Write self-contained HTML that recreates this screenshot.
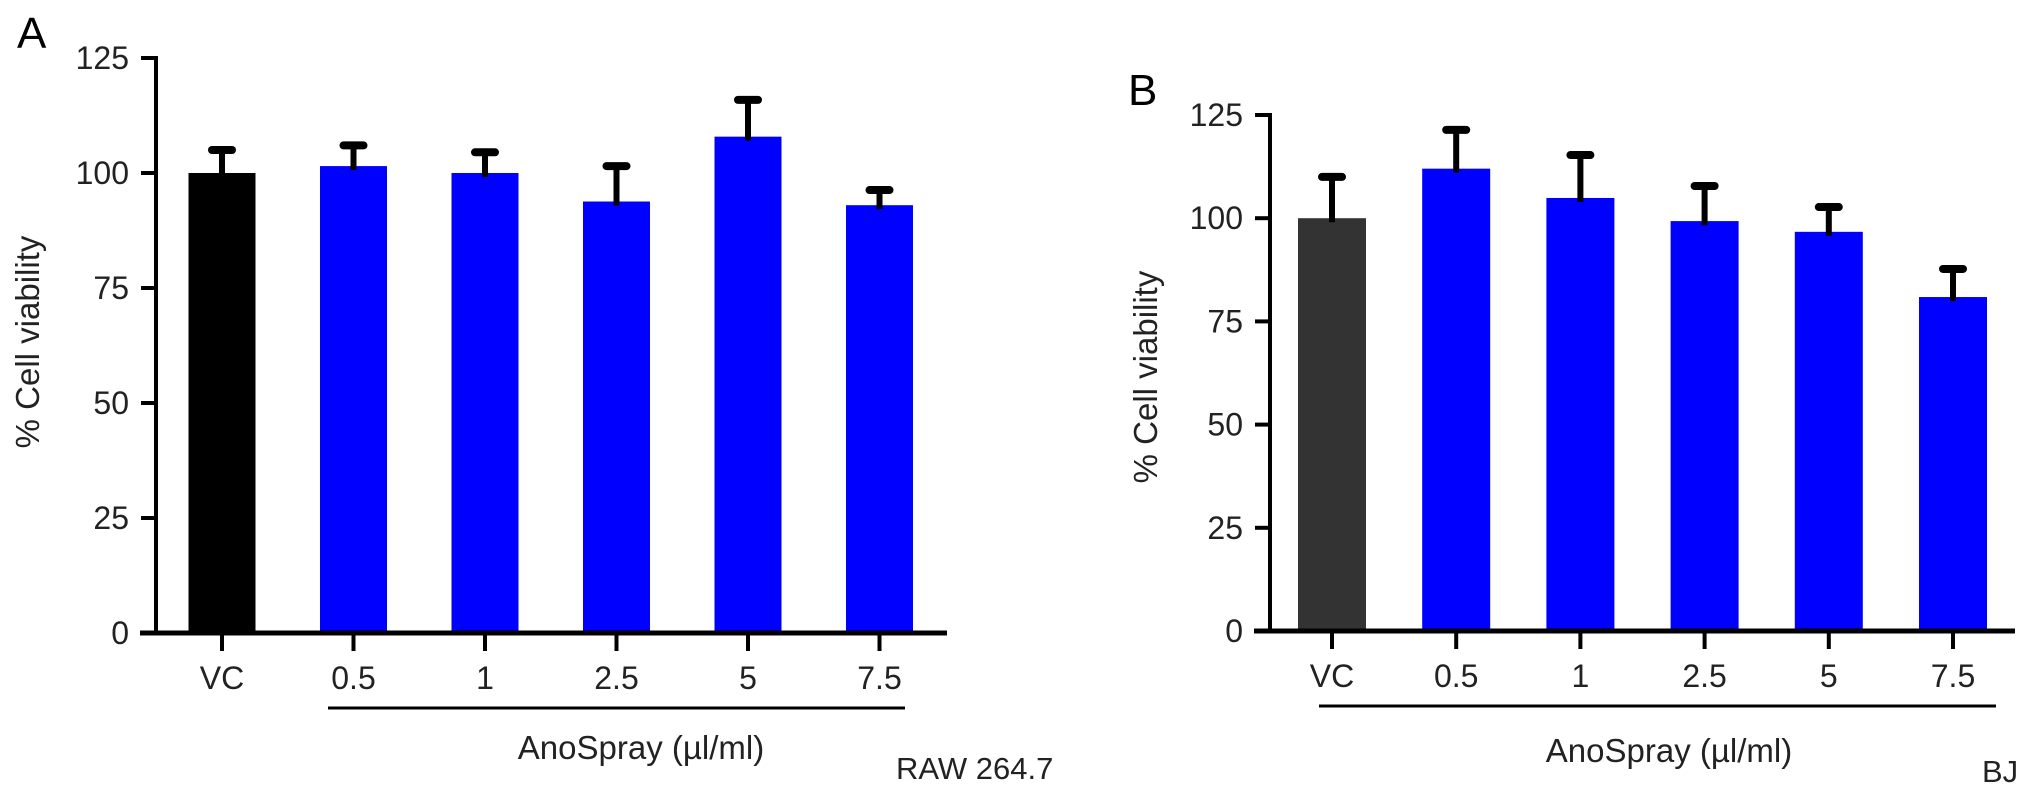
<!DOCTYPE html>
<html><head><meta charset="utf-8"><style>
html,body{margin:0;padding:0;background:#fff;}
svg{display:block;font-family:"Liberation Sans",Arial,sans-serif;}
</style></head><body>
<svg id="chart" width="2032" height="794" viewBox="0 0 2032 794" xmlns="http://www.w3.org/2000/svg"></svg>
<script>
const categories = ["VC","0.5","1","2.5","5","7.5"];
const valuesA = [100, 101.5, 100, 93.8, 107.9, 93];
const errorsA = [105, 106, 104.5, 101.5, 115.9, 96.3];
const valuesB = [100, 112, 104.9, 99.3, 96.7, 80.9];
const errorsB = [110, 121.4, 115.3, 107.8, 102.7, 87.7];
const yTicks = [0, 25, 50, 75, 100, 125];

const NS = "http://www.w3.org/2000/svg";
const svg = document.getElementById("chart");
function mk(tag, attrs, parent) {
  const e = document.createElementNS(NS, tag);
  for (const k in attrs) e.setAttribute(k, attrs[k]);
  (parent || svg).appendChild(e);
  return e;
}

const panels = [
  {id:"a", letter:"A", lx:17, ly:48, axisX:156, y0:633, y125:58, xEnd:947, first:222, step:131.5, barW:67,
   vals:valuesA, errs:errorsA, vcColor:"#000", labelRight:129, titleX:28, titleY:342,
   brX1:328, brX2:905, brY:708, anoX:641, anoY:759, cell:"RAW 264.7", cellX:896, cellY:779},
  {id:"b", letter:"B", lx:1128, ly:105, axisX:1270, y0:631, y125:115, xEnd:2015, first:1332, step:124.2, barW:68,
   vals:valuesB, errs:errorsB, vcColor:"#333", labelRight:1243, titleX:1146, titleY:377,
   brX1:1319, brX2:1996, brY:706, anoX:1669, anoY:762, cell:"BJ", cellX:1982, cellY:782}
];

panels.forEach(p => {
  const g = mk("g", {});
  
  
  const yS = v => p.y0 - (v / 125) * (p.y0 - p.y125);
  const xS = i => p.first + i * p.step;

  const letter = mk("text", {x:p.lx, y:p.ly, "font-size":44, fill:"#000"}, g);
  letter.textContent = p.letter;
  
  

  p.vals.forEach((v, i) => {
    const r = mk("rect", {x:xS(i) - p.barW/2, y:yS(v), width:p.barW, height:p.y0 - yS(v), fill: i === 0 ? p.vcColor : "#0000ff"}, g);
    
    
    const eg = mk("g", {}, g);
    
    
    mk("line", {x1:xS(i), x2:xS(i), y1:yS(v) + 4, y2:yS(p.errs[i]), stroke:"#000", "stroke-width":6}, eg);
    mk("line", {x1:xS(i) - 10, x2:xS(i) + 10, y1:yS(p.errs[i]), y2:yS(p.errs[i]), stroke:"#000", "stroke-width":8, "stroke-linecap":"round"}, eg);
  });

  const ya = mk("g", {}, g);
  
  
  mk("line", {x1:p.axisX, x2:p.axisX, y1:yS(125) - 2, y2:p.y0 + 2, stroke:"#000", "stroke-width":4}, ya);
  yTicks.forEach(t => {
    mk("line", {x1:p.axisX - 15, x2:p.axisX, y1:yS(t), y2:yS(t), stroke:"#000", "stroke-width":4}, ya);
    const tl = mk("text", {x:p.labelRight, y:yS(t) + 11, "font-size":32, "text-anchor":"end", fill:"#222"}, ya);
    tl.textContent = t;
    
    
  });
  const yt = mk("text", {x:p.titleX, y:p.titleY, "font-size":33, "text-anchor":"middle", fill:"#222",
    transform:"rotate(-90 " + p.titleX + " " + p.titleY + ")", dy:11}, g);
  yt.textContent = "% Cell viability";
  
  

  const xa = mk("g", {}, g);
  
  
  mk("line", {x1:p.axisX - 16, x2:p.xEnd, y1:p.y0, y2:p.y0, stroke:"#000", "stroke-width":5}, xa);
  categories.forEach((c, i) => {
    mk("line", {x1:xS(i), x2:xS(i), y1:p.y0, y2:p.y0 + 18, stroke:"#000", "stroke-width":4}, xa);
    const tl = mk("text", {x:xS(i), y:p.y0 + 56, "font-size":32, "text-anchor":"middle", fill:"#222"}, xa);
    tl.textContent = c;
    
    
  });
  const br = mk("line", {x1:p.brX1, x2:p.brX2, y1:p.brY, y2:p.brY, stroke:"#000", "stroke-width":3}, g);
  
  
  const ano = mk("text", {x:p.anoX, y:p.anoY, "font-size":33, "text-anchor":"middle", fill:"#222"}, g);
  ano.textContent = "AnoSpray (\u00b5l/ml)";
  
  
  const cl = mk("text", {x:p.cellX, y:p.cellY, "font-size":31, "text-anchor":"start", fill:"#222"}, g);
  cl.textContent = p.cell;
  
  
});
</script>
</body></html>
